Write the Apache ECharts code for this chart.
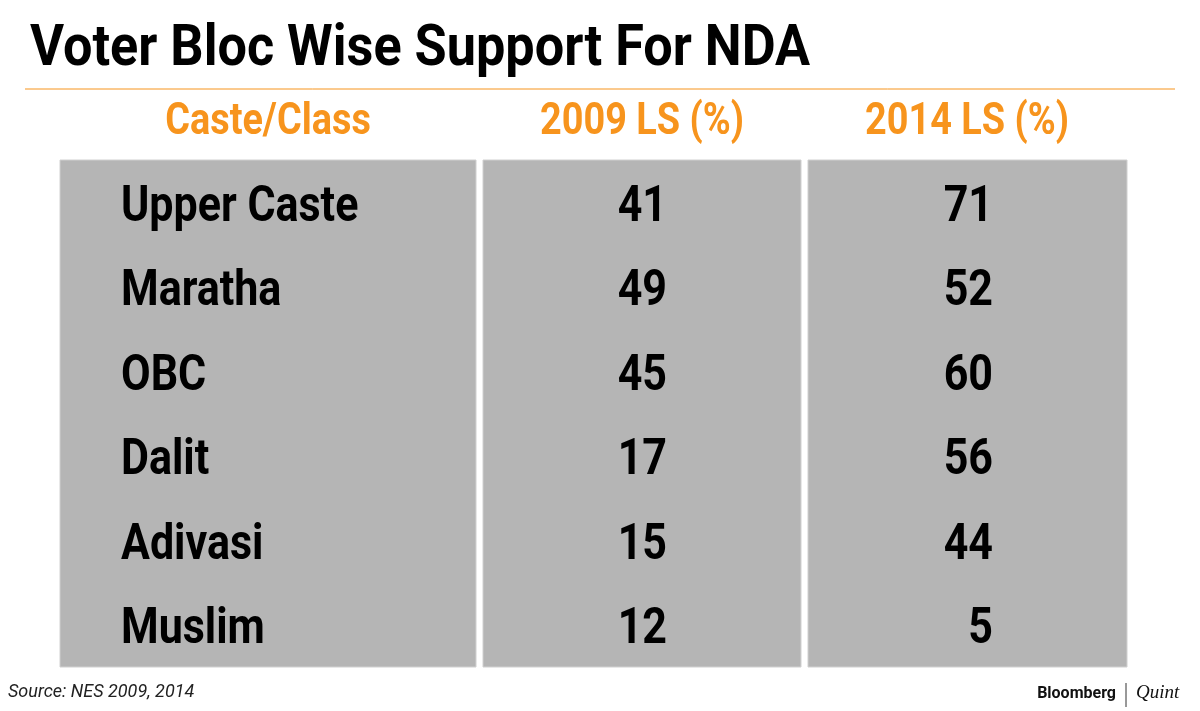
<!DOCTYPE html>
<html lang="en">
<head>
    <meta charset="UTF-8">
    <title>Voter Bloc Wise Support For NDA</title>
    <script src="https://cdn.jsdelivr.net/npm/echarts@6/dist/echarts.min.js"></script>
    <style>
        html, body {margin: 0; padding: 0; background: #fff;}
        #main {width: 1200px; height: 711px;}
    </style>
</head>
<body>
<div id="main"></div>
<script>
    // data
    let headers = ['Caste/Class', '2009 LS (%)', '2014 LS (%)'];
    let groups = ['Upper Caste', 'Maratha', 'OBC', 'Dalit', 'Adivasi', 'Muslim'];
    let ls2009 = [41, 49, 45, 17, 15, 12];
    let ls2014 = [71, 52, 60, 56, 44, 5];

    // column layout (pixels): left, right, text anchor, header centre
    let cols = [
        {x0: 60, x1: 476, tx: 121, align: 'left', hx: 268},
        {x0: 483, x1: 801, tx: 667, align: 'right', hx: 642},
        {x0: 808, x1: 1127, tx: 993, align: 'right', hx: 967}
    ];
    let font = 'Roboto, sans-serif';

    let cells = [];
    groups.forEach((g, i) => {
        cells.push([0, i, g]);
        cells.push([1, i, String(ls2009[i])]);
        cells.push([2, i, String(ls2014[i])]);
    });

    let myChart = echarts.init(document.getElementById('main'), null, {renderer: 'canvas'});
    let option = {
        backgroundColor: '#fff',
        animation: false,
        grid: {left: 60, right: 73, top: 160, bottom: 44},
        xAxis: {type: 'value', min: 0, max: 3, show: false},
        yAxis: {type: 'category', data: groups, inverse: true, show: false},
        graphic: [
            {type: 'text', x: 30, y: 50, scaleX: 0.9,
                style: {text: 'Voter Bloc Wise Support For NDA', font: 'bold 58px ' + font, fill: '#000', verticalAlign: 'middle'}},
            {type: 'line', shape: {x1: 25, y1: 89, x2: 1175, y2: 89}, style: {stroke: '#f7941d', lineWidth: 1}},
            {type: 'text', x: 8, y: 692,
                style: {text: 'Source: NES 2009, 2014', font: 'italic 18px ' + font, fill: '#222', verticalAlign: 'middle'}},
            {type: 'text', x: 1116, y: 694,
                style: {text: 'Bloomberg', font: 'bold 16px ' + font, fill: '#111', align: 'right', verticalAlign: 'middle'}},
            {type: 'line', shape: {x1: 1126, y1: 683, x2: 1126, y2: 707}, style: {stroke: '#333', lineWidth: 1}},
            {type: 'text', x: 1136, y: 693,
                style: {text: 'Quint', font: 'italic 19px serif', fill: '#111', verticalAlign: 'middle'}}
        ].concat(headers.map((h, i) => ({
            type: 'text', x: cols[i].hx, y: 123, scaleX: 0.86,
            style: {text: h, font: 'bold 44px ' + font, fill: '#f7941d', align: 'center', verticalAlign: 'middle'}
        }))),
        series: [
            {
                type: 'custom',
                data: [0, 1, 2],
                renderItem: function (params, api) {
                    let c = cols[api.value(0)];
                    return {type: 'rect', shape: {x: c.x0, y: 160, width: c.x1 - c.x0, height: 507},
                        style: {fill: '#b5b5b5', stroke: '#d0d0d0', lineWidth: 1}};
                }
            },
            {
                type: 'custom',
                data: cells,
                z: 3,
                renderItem: function (params, api) {
                    let c = cols[api.value(0)];
                    let y = api.coord([0, api.value(1)])[1];
                    return {type: 'text', x: c.tx, y: y + 6, scaleX: 0.86,
                        style: {text: cells[params.dataIndex][2], font: 'bold 50px ' + font, fill: '#000',
                            align: c.align, verticalAlign: 'middle'}};
                }
            }
        ]
    };
    myChart.setOption(option);
</script>
</body>
</html>
